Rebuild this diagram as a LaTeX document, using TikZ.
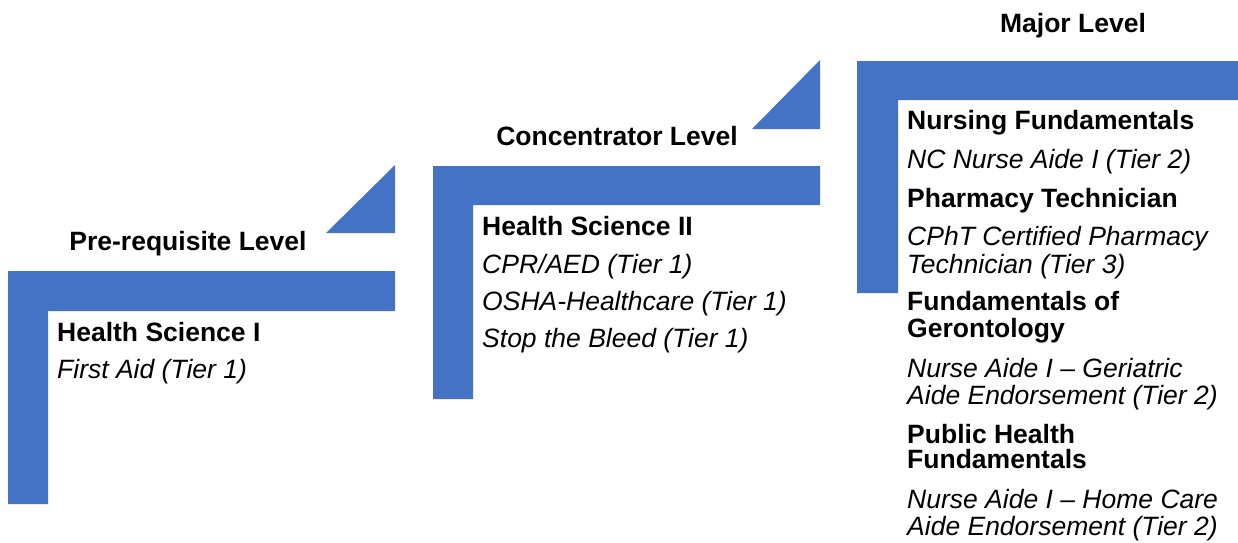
\documentclass[tikz,border=0pt]{standalone}
\usepackage{fontspec}
\setmainfont{Liberation Sans}
\usetikzlibrary{positioning}
\definecolor{stepblue}{RGB}{68,114,196}
\tikzset{
  band/.style={fill=stepblue,draw=none},
  levellabel/.style={inner sep=0pt,anchor=base,font=\fontsize{26.5}{30}\selectfont\bfseries},
  course/.style={inner sep=0pt,anchor=base west,font=\fontsize{26.5}{30}\selectfont\bfseries},
  cert/.style={inner sep=0pt,anchor=base west,font=\fontsize{26.5}{30}\selectfont\itshape}
}

\begin{document}
\begin{tikzpicture}[x=1pt,y=-1pt]
    \useasboundingbox (0,0) rectangle (1238,542);

    % steps
    \fill[band] (8,271) -- (395,271) -- (395,311) -- (48,311) -- (48,504) -- (8,504) -- cycle;
    \fill[band] (326,233) -- (395,233) -- (395,165) -- cycle;
    \fill[band] (433,166) -- (820,166) -- (820,205) -- (473,205) -- (473,399) -- (433,399) -- cycle;
    \fill[band] (752,129) -- (820,129) -- (820,60) -- cycle;
    \fill[band] (857,61) -- (1238,61) -- (1238,100) -- (898,100) -- (898,293) -- (857,293) -- cycle;

    % level labels
    \node (prereq) [levellabel] at (188,250)  {Pre-requisite Level};
    \node (conc)   [levellabel] at (617,145)  {Concentrator Level};
    \node (major)  [levellabel] at (1073,32)  {Major Level};

    % pre-requisite
    \node (hs1) [course] at (57,341) {Health Science I};
    \node (fa)  [cert]   at (57,378) {First Aid (Tier 1)};

    % concentrator
    \node (hs2)  [course] at (482,235) {Health Science II};
    \node (cpr)  [cert]   at (482,273) {CPR/AED (Tier 1)};
    \node (osha) [cert]   at (482,310) {OSHA-Healthcare (Tier 1)};
    \node (stb)  [cert]   at (482,347) {Stop the Bleed (Tier 1)};

    % major
    \node (nf)     [course] at (907,129) {Nursing Fundamentals};
    \node (nna)    [cert]   at (907,168) {NC Nurse Aide I (Tier 2)};
    \node (pt)     [course] at (907,207) {Pharmacy Technician};
    \node (cpht1)  [cert]   at (907,245) {CPhT Certified Pharmacy};
    \node (cpht2)  [cert]   at (907,273) {Technician (Tier 3)};
    \node (fg1)    [course] at (907,310) {Fundamentals of};
    \node (fg2)    [course] at (907,337) {Gerontology};
    \node (ger1)   [cert]   at (907,377) {Nurse Aide I – Geriatric};
    \node (ger2)   [cert]   at (907,404) {Aide Endorsement (Tier 2)};
    \node (phf1)   [course] at (907,443) {Public Health};
    \node (phf2)   [course] at (907,468) {Fundamentals};
    \node (hc1)    [cert]   at (907,508) {Nurse Aide I – Home Care};
    \node (hc2)    [cert]   at (907,535) {Aide Endorsement (Tier 2)};
\end{tikzpicture}
\end{document}
